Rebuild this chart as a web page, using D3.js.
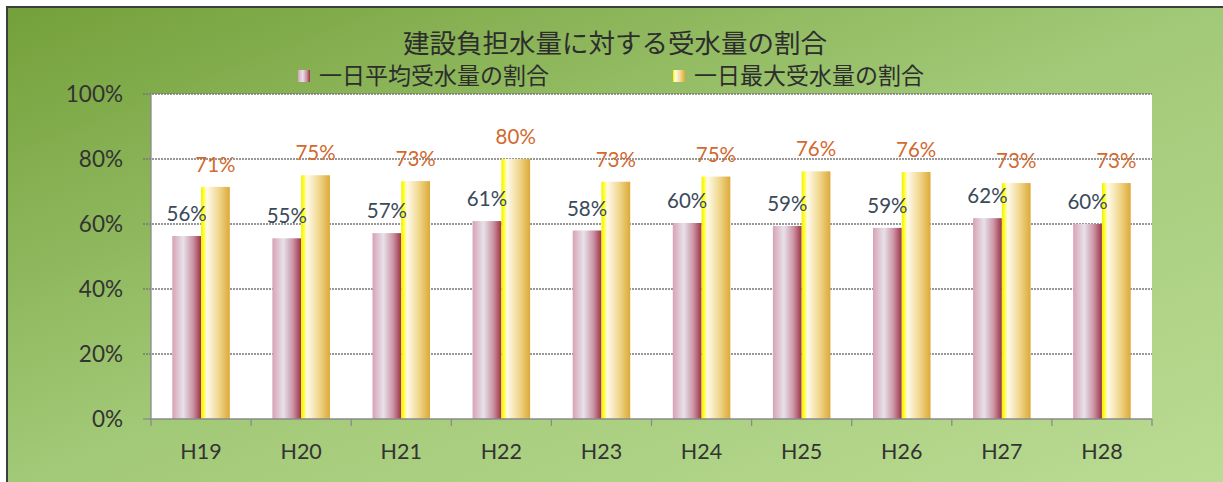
<!DOCTYPE html>
<html>
<head>
<meta charset="utf-8">
<script src="https://cdn.jsdelivr.net/npm/d3@7"></script>
<style>
    body { margin: 0; background: #fff; }
    svg { display: block; }
</style>
</head>
<body>
<svg id="chart" width="1223" height="482"></svg>
<script>
const categories = ['H19', 'H20', 'H21', 'H22', 'H23', 'H24', 'H25', 'H26', 'H27', 'H28'];
const seriesNames = ['一日平均受水量の割合', '一日最大受水量の割合'];
const avgValues = [56.3, 55.6, 57.2, 60.9, 58.0, 60.3, 59.4, 58.8, 61.8, 60.0];
const maxValues = [71.4, 75.0, 73.2, 80.0, 73.0, 74.6, 76.2, 76.0, 72.6, 72.6];
const avgLabels = ['56%', '55%', '57%', '61%', '58%', '60%', '59%', '59%', '62%', '60%'];
const maxLabels = ['71%', '75%', '73%', '80%', '73%', '75%', '76%', '76%', '73%', '73%'];
const yTicks = [0, 20, 40, 60, 80, 100];

const margin = { top: 94, right: 71, bottom: 63, left: 151 };

const svg = d3.select('#chart');
const width = +svg.attr('width');
const height = +svg.attr('height');
const innerWidth = width - margin.left - margin.right;
const innerHeight = height - margin.top - margin.bottom;

const numFont = 'Lato, "Noto Sans", sans-serif';
const jpFont = '"Noto Sans CJK JP", sans-serif';

const defs = svg.append('defs');

// background gradient
const bg = defs.append('linearGradient').attr('id', 'bg')
    .attr('x1', 0).attr('y1', 0).attr('x2', 1).attr('y2', 1);
bg.append('stop').attr('offset', '0%').attr('stop-color', '#74a03a');
bg.append('stop').attr('offset', '50%').attr('stop-color', '#a2c977');
bg.append('stop').attr('offset', '100%').attr('stop-color', '#badb93');

const pinkGrad = defs.append('linearGradient').attr('id', 'pink')
    .attr('x1', 0).attr('y1', 0).attr('x2', 1).attr('y2', 0);
[['0%', '#d7a2b5'], ['38%', '#e7e2ea'], ['72%', '#cc93a4'], ['100%', '#9a3346']]
    .forEach(s => pinkGrad.append('stop').attr('offset', s[0]).attr('stop-color', s[1]));

const yellowGrad = defs.append('linearGradient').attr('id', 'yellow')
    .attr('x1', 0).attr('y1', 0).attr('x2', 1).attr('y2', 0);
[['0%', '#f4ee00'], ['9%', '#ffff2a'], ['20%', '#fffaec'], ['60%', '#f1d992'], ['100%', '#dca938']]
    .forEach(s => yellowGrad.append('stop').attr('offset', s[0]).attr('stop-color', s[1]));

svg.append('rect')
    .attr('x', 7).attr('y', 7)
    .attr('width', width - 7).attr('height', height - 7)
    .attr('fill', 'url(#bg)');

svg.append('path')
    .attr('d', `M7,${height} V7 H${width}`)
    .attr('fill', 'none')
    .attr('stroke', '#3a3f38')
    .attr('stroke-width', 2);

const g = svg.append('g')
    .attr('transform', `translate(${margin.left}, ${margin.top})`);

const x = d3.scaleBand()
    .domain(categories)
    .range([0, innerWidth])
    .padding(0);

const xs = d3.scaleBand()
    .domain(seriesNames)
    .range([0, x.bandwidth()])
    .paddingInner(0)
    .paddingOuter(0.74);

const y = d3.scaleLinear()
    .domain([0, 100])
    .range([innerHeight, 0]);

g.append('rect')
    .attr('width', innerWidth)
    .attr('height', innerHeight)
    .attr('fill', '#fff');

// gridlines
g.selectAll('.grid')
    .data(yTicks.filter(d => d > 0))
    .enter()
    .append('line')
    .attr('x1', -8).attr('x2', innerWidth)
    .attr('y1', d => y(d)).attr('y2', d => y(d))
    .attr('stroke', '#777')
    .attr('stroke-width', 1.4)
    .attr('stroke-dasharray', '2,1');

// y axis
g.append('line')
    .attr('x1', 0).attr('x2', 0)
    .attr('y1', 0).attr('y2', innerHeight)
    .attr('stroke', '#8a8a8a').attr('stroke-width', 1.3);

g.append('line')
    .attr('x1', -8).attr('x2', 0)
    .attr('y1', innerHeight).attr('y2', innerHeight)
    .attr('stroke', '#8a8a8a').attr('stroke-width', 1.3);

g.selectAll('.ylab')
    .data(yTicks)
    .enter()
    .append('text')
    .attr('x', -28)
    .attr('y', d => y(d))
    .attr('dy', '0.36em')
    .attr('text-anchor', 'end')
    .attr('font-family', numFont)
    .attr('font-size', 22.5)
    .attr('fill', '#333')
    .text(d => d + '%');

// bars
const groups = g.selectAll('.grp')
    .data(categories)
    .enter()
    .append('g')
    .attr('transform', d => `translate(${x(d)},0)`);

groups.append('rect')
    .attr('x', xs(seriesNames[0]))
    .attr('width', xs.bandwidth())
    .attr('y', (d, i) => y(avgValues[i]))
    .attr('height', (d, i) => innerHeight - y(avgValues[i]))
    .attr('fill', 'url(#pink)');

groups.append('rect')
    .attr('x', xs(seriesNames[1]))
    .attr('width', xs.bandwidth())
    .attr('y', (d, i) => y(maxValues[i]))
    .attr('height', (d, i) => innerHeight - y(maxValues[i]))
    .attr('fill', 'url(#yellow)');

groups.append('text')
    .attr('x', xs(seriesNames[0]) + xs.bandwidth() / 2)
    .attr('y', (d, i) => y(avgValues[i]) - 15)
    .attr('text-anchor', 'middle')
    .attr('font-family', numFont)
    .attr('font-size', 20.5)
    .attr('fill', '#3a4a5a')
    .text((d, i) => avgLabels[i]);

groups.append('text')
    .attr('x', xs(seriesNames[1]) + xs.bandwidth() / 2)
    .attr('y', (d, i) => y(maxValues[i]) - 15)
    .attr('text-anchor', 'middle')
    .attr('font-family', numFont)
    .attr('font-size', 20.5)
    .attr('fill', '#d2692f')
    .text((d, i) => maxLabels[i]);

// x axis
const xAxis = g.append('g')
    .attr('transform', `translate(0, ${innerHeight})`);

xAxis.append('line')
    .attr('x1', 0).attr('x2', innerWidth)
    .attr('stroke', '#8a8a8a').attr('stroke-width', 1.3);

xAxis.selectAll('.tick')
    .data(d3.range(categories.length + 1))
    .enter()
    .append('line')
    .attr('x1', d => d * x.step()).attr('x2', d => d * x.step())
    .attr('y1', 0).attr('y2', 7)
    .attr('stroke', '#8a8a8a').attr('stroke-width', 1.3);

xAxis.selectAll('.xlab')
    .data(categories)
    .enter()
    .append('text')
    .attr('x', d => x(d) + x.bandwidth() / 2)
    .attr('y', 40)
    .attr('text-anchor', 'middle')
    .attr('font-family', numFont)
    .attr('font-size', 21.5)
    .attr('fill', '#333')
    .text(d => d);

// title
svg.append('text')
    .attr('x', 615)
    .attr('y', 53)
    .attr('text-anchor', 'middle')
    .attr('font-family', jpFont)
    .attr('font-size', 26.5)
    .attr('fill', '#2d2d2d')
    .text('建設負担水量に対する受水量の割合');

// legend
const legend = [
    { name: seriesNames[0], x: 298, fill: 'url(#pink)' },
    { name: seriesNames[1], x: 673, fill: 'url(#yellow)' }
];

const lg = svg.selectAll('.legend')
    .data(legend)
    .enter()
    .append('g')
    .attr('transform', d => `translate(${d.x}, 70)`);

lg.append('rect')
    .attr('width', 12).attr('height', 12)
    .attr('fill', d => d.fill);

lg.append('text')
    .attr('x', 21)
    .attr('y', 6)
    .attr('dy', '0.36em')
    .attr('font-family', jpFont)
    .attr('font-size', 23)
    .attr('fill', '#2d2d2d')
    .text(d => d.name);
</script>
</body>
</html>
